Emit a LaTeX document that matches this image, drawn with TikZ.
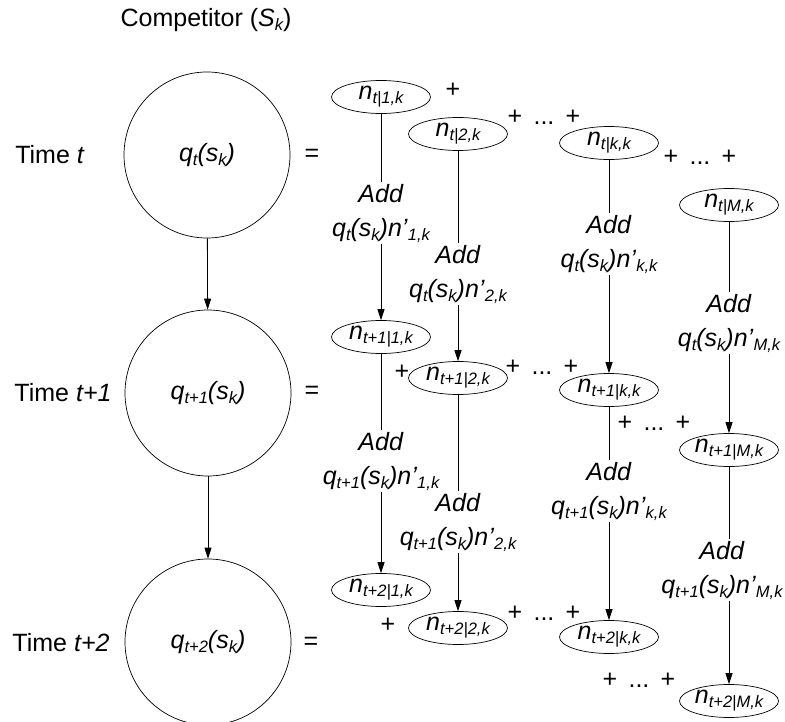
\documentclass[tikz,border=0pt]{standalone}
\usepackage{fontspec}
\setmainfont{Liberation Sans}
\usetikzlibrary{shapes.geometric,arrows.meta}
\newcommand\sbs[1]{\raisebox{-4pt}{\fontsize{16.5}{16.5}\selectfont\itshape #1}}
\newcommand\nsub[1]{\textit{n}\sbs{#1}}
\newcommand\qs[1]{\textit{q}\sbs{#1}\textit{(s}\sbs{k}\textit{)}}
\newcommand\addl[2]{\textit{Add}\\\qs{#1}\textit{n’}\sbs{#2}}
\newcommand\pdp{+\hspace{0.45em}...\hspace{0.45em}+}
\begin{document}
\begin{tikzpicture}[x=1pt,y=-1pt,
  every node/.style={font=\fontsize{25}{34}\selectfont},
  circ/.style={circle, draw, line width=0.7pt, minimum size=166pt, inner sep=0pt},
  nell/.style={ellipse, draw, line width=0.7pt, minimum width=99pt, minimum height=33pt, inner sep=0pt},
  addlab/.style={align=center, inner sep=2pt},
  conn/.style={line width=0.8pt},
  arr/.style={conn, -{Triangle[length=11pt,width=7pt]}}]
\useasboundingbox (0,0) rectangle (785,722);

% title and time labels
\node (title) at (206,20) {Competitor (\textit{S}\sbs{k})};
\node (tm1) at (50,155) {Time \textit{t}};
\node (tm2) at (63,393) {Time \textit{t+1}};
\node (tm3) at (61,643) {Time \textit{t+2}};

% circles
\node[circ] (c1) at (207,155) {\qs{t}};
\node[circ] (c2) at (208,393) {\qs{t+1}};
\node[circ] (c3) at (208,642) {\qs{t+2}};
\draw[arr] (c1) -- (c2);
\draw[arr] (c2) -- (c3);

% equals
\node (eq1) at (312,155) {=};
\node (eq2) at (312,392) {=};
\node (eq3) at (311,643) {=};

% ellipses row t
\node[nell] (e11) at (381,97)  {\nsub{t|1,k}};
\node[nell] (e12) at (458,134) {\nsub{t|2,k}};
\node[nell] (e13) at (609,143) {\nsub{t|k,k}};
\node[nell] (e14) at (729,205) {\nsub{t|M,k}};
% row t+1
\node[nell] (e21) at (381,337) {\nsub{t+1|1,k}};
\node[nell] (e22) at (458,378) {\nsub{t+1|2,k}};
\node[nell] (e23) at (609,390) {\nsub{t+1|k,k}};
\node[nell] (e24) at (729,450) {\nsub{t+1|M,k}};
% row t+2
\node[nell] (e31) at (381,590) {\nsub{t+2|1,k}};
\node[nell] (e32) at (458,628) {\nsub{t+2|2,k}};
\node[nell] (e33) at (609,637) {\nsub{t+2|k,k}};
\node[nell] (e34) at (729,701) {\nsub{t+2|M,k}};

% plus signs
\node (p11) at (453,90) {+};
\node (p12) at (544,117) {\pdp};
\node (p13) at (700,157) {\pdp};
\node (p21) at (402,372) {+};
\node (p22) at (542,367) {\pdp};
\node (p23) at (654,423) {\pdp};
\node (p31) at (388,625) {+};
\node (p32) at (544,613) {\pdp};
\node (p33) at (639,680) {\pdp};

% add labels
\node[addlab] (l11) at (381,213) {\addl{t}{1,k}};
\node[addlab] (l12) at (458,274) {\addl{t}{2,k}};
\node[addlab] (l13) at (609,244) {\addl{t}{k,k}};
\node[addlab] (l14) at (729,323) {\addl{t}{M,k}};
\node[addlab] (l21) at (381,461) {\addl{t+1}{1,k}};
\node[addlab] (l22) at (458,522) {\addl{t+1}{2,k}};
\node[addlab] (l23) at (609,491) {\addl{t+1}{k,k}};
\node[addlab] (l24) at (722,570) {\addl{t+1}{M,k}};

% connectors
\draw[conn] (e11) -- (l11);  \draw[arr] (l11) -- (e21);
\draw[conn] (e12) -- (l12);  \draw[arr] (l12) -- (e22);
\draw[conn] (e13) -- (l13);  \draw[arr] (l13) -- (e23);
\draw[conn] (e14) -- (l14);  \draw[arr] (l14) -- (e24);
\draw[conn] (e21) -- (l21);  \draw[arr] (l21) -- (e31);
\draw[conn] (e22) -- (l22);  \draw[arr] (l22) -- (e32);
\draw[conn] (e23) -- (l23);  \draw[arr] (l23) -- (e33);
\draw[conn] (e24) -- (e24 |- l24.north);  \draw[arr] (e24 |- l24.south) -- (e34);
\end{tikzpicture}
\end{document}
